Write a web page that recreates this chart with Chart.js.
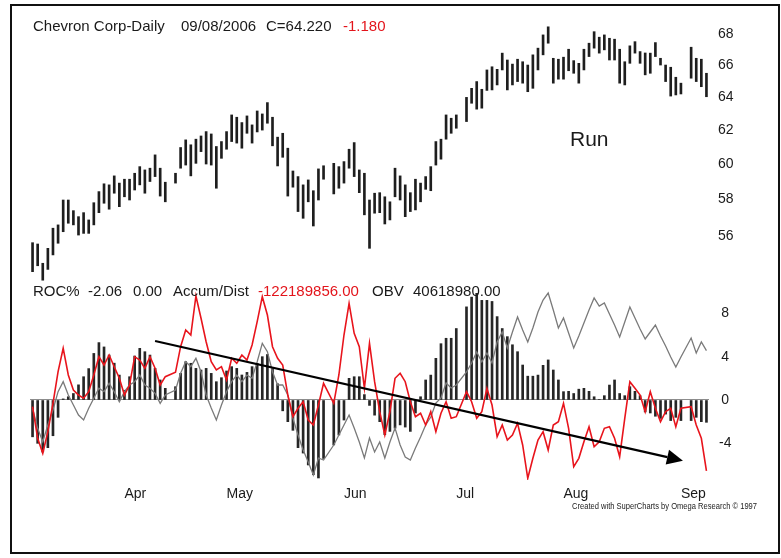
<!DOCTYPE html>
<html>
<head>
<meta charset="utf-8">
<script src="https://cdn.jsdelivr.net/npm/chart.js@4.4.1/dist/chart.umd.min.js"></script>
<style>
  html,body{margin:0;padding:0;background:#fff;}
  #wrap{position:relative;width:781px;height:558px;overflow:hidden;background:#fff;font-family:"Liberation Sans",Arial,sans-serif;}
  canvas{position:absolute;left:0;}
  .t{position:absolute;white-space:nowrap;line-height:1;color:#1a1a1a;}
  .red{color:#e3141b;}
  #frame{position:absolute;left:10px;top:4px;width:770px;height:550px;border:2px solid #111;box-sizing:border-box;pointer-events:none;}
</style>
</head>
<body>
<div id="wrap">
  <canvas id="cTop" width="781" height="287" style="top:0;width:781px;height:287px;"></canvas>
  <canvas id="cBot" width="781" height="240" style="top:280px;width:781px;height:240px;"></canvas>
  <div id="frame"></div>
  <span class="t" style="left:33px;top:18px;font-size:15px;">Chevron Corp-Daily</span>
  <span class="t" style="left:181px;top:18px;font-size:15px;">09/08/2006</span>
  <span class="t" style="left:266px;top:18px;font-size:15px;">C=64.220</span>
  <span class="t red" style="left:343px;top:18px;font-size:15px;">-1.180</span>
  <span class="t" style="left:570px;top:128px;font-size:21px;">Run</span>
  <span class="t" style="left:33px;top:283px;font-size:15px;">ROC%</span>
  <span class="t" style="left:88px;top:283px;font-size:15px;">-2.06</span>
  <span class="t" style="left:133px;top:283px;font-size:15px;">0.00</span>
  <span class="t" style="left:173px;top:283px;font-size:15px;">Accum/Dist</span>
  <span class="t red" style="left:258px;top:283px;font-size:15px;">-122189856.00</span>
  <span class="t" style="left:372px;top:283px;font-size:15px;">OBV</span>
  <span class="t" style="left:413px;top:283px;font-size:15px;">40618980.00</span>
  <span class="t" style="left:572px;top:502px;font-size:9px;color:#222;transform:scaleX(0.84);transform-origin:0 0;">Created with SuperCharts by Omega Research © 1997</span>
</div>
<script>
// ---------- categories: trading-day slots (weekdays, holidays left empty) ----------
const startDate = new Date(2006, 2, 8);   // Mar 8 2006
const endDate = new Date(2006, 8, 8);     // Sep 8 2006
const dates = [];
for (let d = new Date(startDate); d <= endDate; d.setDate(d.getDate() + 1)) {
  const wd = d.getDay();
  if (wd !== 0 && wd !== 6) dates.push(new Date(d));
}
const monthNames = ['Jan','Feb','Mar','Apr','May','Jun','Jul','Aug','Sep','Oct','Nov','Dec'];
const labels = dates.map(d => (d.getMonth() + 1) + '/' + d.getDate() + '/2006');
const monthLabels = dates.map((d, i) => (i > 0 && d.getMonth() !== dates[i - 1].getMonth()) ? monthNames[d.getMonth()] : '');

// ---------- price (daily high / low) ----------
const priceHigh = [55.64,55.57,54.55,55.34,56.42,56.60,57.97,57.97,57.38,57.05,57.27,56.87,57.82,58.44,58.88,58.82,59.33,58.92,59.14,59.14,
59.48,59.86,59.67,59.77,60.54,59.77,58.97,null,59.48,60.97,61.42,61.13,61.46,61.65,61.91,61.77,61.03,61.32,61.91,62.91,
62.77,62.45,62.85,62.31,63.15,62.97,63.66,62.77,61.58,61.81,60.93,59.61,59.29,58.82,59.10,58.49,59.73,59.91,null,60.05,
59.86,60.15,60.87,61.26,59.67,59.48,57.97,58.35,58.38,58.15,57.87,59.77,59.33,58.82,58.38,59.14,58.92,59.29,59.86,61.32,
61.46,62.91,62.71,62.91,null,63.98,64.54,64.96,64.48,65.69,65.89,65.73,66.76,66.32,66.06,66.37,66.21,66.00,66.65,67.08,
67.94,68.47,66.43,66.37,66.50,67.01,66.28,66.11,67.01,67.40,68.15,67.79,67.94,67.72,67.66,67.01,66.21,67.23,67.50,66.86,
66.77,66.76,67.44,66.43,66.00,65.86,65.23,64.86,null,67.14,66.43,66.37,65.48];
const priceLow = [54.11,54.42,53.67,54.23,54.99,55.61,56.23,56.69,56.60,56.05,56.14,56.14,56.60,57.27,57.79,57.46,58.35,57.60,58.15,57.97,
58.53,58.82,58.35,59.01,59.29,58.19,57.87,null,58.92,59.77,59.95,59.33,60.05,60.73,60.01,59.95,58.63,60.34,60.87,61.32,
61.23,60.93,61.81,61.23,61.89,62.00,62.41,61.07,59.90,60.40,58.19,58.69,57.33,56.96,57.87,56.54,57.97,59.14,null,58.31,
58.63,58.92,59.77,59.29,58.38,57.15,55.34,57.24,57.27,56.65,56.87,58.15,57.97,57.05,57.33,57.42,57.87,58.57,58.49,59.95,
60.29,61.46,61.81,62.11,null,62.51,63.62,63.26,63.32,64.41,64.44,64.75,65.69,64.44,64.75,64.96,64.86,64.33,64.54,65.69,
66.65,67.40,64.86,65.11,65.11,65.64,65.48,64.86,65.69,66.54,67.08,66.76,66.97,66.32,66.32,64.86,64.75,66.11,66.76,66.11,
65.38,65.48,66.54,66.00,64.96,64.06,64.13,64.19,null,65.17,64.96,64.64,64.02];

// ---------- ROC % ----------
const rocValues = [-3.4,-4.0,-4.8,-4.4,-3.3,-1.6,0.1,0.3,0.6,1.4,2.15,2.9,4.3,5.3,4.9,4.15,3.4,2.3,0.9,2.15,
4.06,4.77,4.46,4.15,2.92,1.85,1.08,null,1.23,2.46,3.54,3.39,2.92,2.77,2.92,2.46,1.69,2.06,2.68,3.08,
2.92,2.31,2.55,3.08,3.39,4.0,4.2,2.9,1.5,-1.0,-2.0,-2.8,-4.4,-4.9,-6.0,-6.9,-7.2,-5.4,null,-4.15,
-3.23,-1.85,2.0,2.15,2.15,0.5,-0.5,-1.4,-2.0,-3.2,-2.9,-2.6,-2.3,-2.5,-2.9,-1.2,0.3,1.85,2.3,3.85,
5.2,5.7,5.7,6.6,null,8.6,9.5,9.85,9.2,9.2,9.1,7.7,6.6,5.85,5.1,4.46,3.23,2.2,2.2,2.3,
3.2,3.7,2.77,1.85,0.77,0.8,0.6,1.0,1.08,0.8,0.3,0.05,0.4,1.38,1.85,0.6,0.4,1.23,0.8,0.4,
-1.1,-1.2,-1.5,-1.7,-1.3,-1.9,-1.6,-1.9,null,-1.9,-1.6,-2.0,-2.06];

// ---------- Accumulation / Distribution (millions) ----------
const adValues = [-57.9,-89.5,-104.5,-82.9,-54.5,-22.9,0.5,-26.2,-41.2,-46.2,-49.5,-42.9,-26.2,-7.9,-16.2,-6.2,-17.9,-29.5,-46.2,-36.2,
-7.9,-11.2,-19.5,-7.9,-19.5,-36.2,-27.9,null,-23.5,2.1,18.8,13.8,52.8,30.5,7.1,-12.9,-21.2,-17.9,-31.2,-9.5,
-14.5,-6.2,-11.2,3.8,27.1,52.1,33.8,2.1,-9.5,-16.2,-46.2,-67.9,-59.5,-52.9,-71.2,-76.2,-56.2,-34.5,null,-54.5,
-26.2,13.8,45.5,15.5,2.1,-39.5,5.5,-32.9,-62.9,-86.2,-62.9,-29.5,-24.5,-32.9,-52.9,-67.9,-64.5,-76.2,-62.9,-82.9,
-64.5,-52.9,-69.5,-67.9,null,-42.9,-52.9,-69.5,-62.9,-39.5,-56.2,-87.9,-76.2,-91.2,-86.2,-74.5,-96.2,-129.5,-109.5,-91.2,
-82.9,-101.2,-76.2,-72.9,-54.5,-79.5,-117.9,-109.5,-92.9,-77.9,-97.9,-92.9,-79.5,-77.9,-89.5,-107.9,-69.5,-32.9,-39.5,-46.2,
-62.9,-42.9,-59.5,-72.9,-62.9,-59.5,-77.9,-59.5,null,-57.9,-76.2,-89.5,-122.19];

// ---------- On Balance Volume (millions) ----------
const obvValues = [-17.0,-37.0,-50.4,-33.7,-18.7,-0.4,9.6,-3.7,-13.7,-23.7,-28.7,-17.0,-7.0,3.0,-0.4,8.0,-0.4,-10.4,-0.4,6.3,
9.6,16.3,6.3,3.0,-2.0,-12.0,-3.7,null,1.3,18.0,29.6,24.6,33.0,19.6,-3.7,-16.7,-28.7,-13.7,-0.4,9.6,
16.3,9.6,16.3,13.0,29.6,48.0,39.6,19.6,6.3,6.3,-3.7,-27.0,-43.7,-58.7,-70.7,-83.7,-66.7,-68.7,null,-53.7,
-43.7,-33.7,-23.7,-36.7,-50.7,-66.7,-46.7,-60.7,-50.7,-66.7,-50.7,-36.7,-53.7,-65.7,-68.7,-56.7,-45.7,-33.7,-25.7,-11.7,
-6.7,8.3,3.3,6.3,null,19.3,28.3,39.3,29.3,38.3,28.3,49.3,59.3,43.3,59.3,74.3,61.3,49.3,63.3,79.3,
91.3,98.3,81.3,63.3,73.3,58.3,43.3,55.3,68.3,81.3,93.3,85.3,88.3,77.3,66.3,54.3,69.3,84.3,73.3,62.3,
52.3,59.3,66.3,55.3,45.3,34.3,24.3,34.3,null,53.3,38.3,49.3,40.62];

// ---------- axis ticks ----------
const priceTicks = [56, 58, 60, 62, 64, 66, 68];
const rocTicks = [-4, 0, 4, 8];

// ---------- trend arrow (in data coordinates: slot index, ROC value) ----------
const arrowFrom = {index: 24.0, value: 5.45};
const arrowTo = {index: 127.4, value: -5.6};

const FONT = '"Liberation Sans", Arial, sans-serif';
Chart.defaults.font.family = FONT;
Chart.defaults.color = '#1a1a1a';

const noPad = s => { s.paddingTop = 0; s.paddingBottom = 0; s.paddingLeft = 0; s.paddingRight = 0; };

const priceBars = priceHigh.map((h, i) => (h == null || priceLow[i] == null) ? null : [priceLow[i], h]);

new Chart(document.getElementById('cTop'), {
  type: 'bar',
  data: {
    labels: labels,
    datasets: [{
      data: priceBars,
      backgroundColor: '#1e1e1e',
      borderWidth: 0,
      barThickness: 2,
      yAxisID: 'yP'
    }]
  },
  options: {
    responsive: false,
    animation: false,
    events: [],
    layout: {padding: {left: 30, top: 20, right: 0, bottom: 0}},
    plugins: {legend: {display: false}, tooltip: {enabled: false}},
    scales: {
      x: {display: false, offset: true},
      yP: {
        type: 'logarithmic',
        position: 'right',
        min: 53.32,
        max: 68.92,
        grid: {display: false, drawTicks: false},
        border: {display: false},
        afterBuildTicks: s => { s.ticks = priceTicks.map(v => ({value: v})); },
        afterFit: s => { s.width = 72; noPad(s); },
        ticks: {
          padding: 9,
          font: {size: 14},
          color: '#1a1a1a',
          callback: v => String(v)
        }
      }
    }
  }
});

const arrowPlugin = {
  id: 'trendArrow',
  afterDatasetsDraw(chart) {
    const xs = chart.scales.x, ys = chart.scales.yR;
    const px = i => xs.getPixelForValue(i);
    const x1 = px(arrowFrom.index), y1 = ys.getPixelForValue(arrowFrom.value);
    const x2 = px(arrowTo.index), y2 = ys.getPixelForValue(arrowTo.value);
    const ang = Math.atan2(y2 - y1, x2 - x1);
    const headLen = 16, headHalf = 7.5;
    const bx = x2 - headLen * Math.cos(ang), by = y2 - headLen * Math.sin(ang);
    const ctx = chart.ctx;
    ctx.save();
    ctx.strokeStyle = '#000';
    ctx.fillStyle = '#000';
    ctx.lineWidth = 2.2;
    ctx.beginPath();
    ctx.moveTo(x1, y1);
    ctx.lineTo(bx, by);
    ctx.stroke();
    ctx.beginPath();
    ctx.moveTo(x2, y2);
    ctx.lineTo(bx + headHalf * Math.sin(ang), by - headHalf * Math.cos(ang));
    ctx.lineTo(bx - headHalf * Math.sin(ang), by + headHalf * Math.cos(ang));
    ctx.closePath();
    ctx.fill();
    ctx.restore();
  }
};

new Chart(document.getElementById('cBot'), {
  type: 'bar',
  data: {
    labels: labels,
    datasets: [
      {
        type: 'line',
        label: 'Accum/Dist',
        data: adValues,
        borderColor: '#e8141c',
        borderWidth: 1.6,
        pointRadius: 0,
        tension: 0,
        spanGaps: true,
        yAxisID: 'yAD',
        order: 0
      },
      {
        type: 'line',
        label: 'OBV',
        data: obvValues,
        borderColor: '#7a7a7a',
        borderWidth: 1.3,
        pointRadius: 0,
        tension: 0,
        spanGaps: true,
        yAxisID: 'yOBV',
        order: 1
      },
      {
        type: 'bar',
        label: 'ROC%',
        data: rocValues,
        backgroundColor: '#262626',
        borderWidth: 0,
        barThickness: 2,
        yAxisID: 'yR',
        order: 2
      }
    ]
  },
  options: {
    responsive: false,
    animation: false,
    events: [],
    layout: {padding: {left: 30, top: 10, right: 0, bottom: 0}},
    plugins: {legend: {display: false}, tooltip: {enabled: false}},
    scales: {
      x: {
        offset: true,
        grid: {display: false, drawTicks: false},
        border: {display: false},
        afterFit: s => { s.height = 40; s.paddingLeft = 0; s.paddingRight = 0; },
        ticks: {
          autoSkip: false,
          maxRotation: 0,
          minRotation: 0,
          align: 'start',
          padding: 6,
          font: {size: 14},
          color: '#1a1a1a',
          callback: (v, i) => monthLabels[i]
        }
      },
      yR: {
        position: 'right',
        min: -7.387,
        max: 10.157,
        border: {display: false},
        grid: {
          display: true,
          drawTicks: false,
          lineWidth: 1,
          color: ctx => (ctx.tick && ctx.tick.value === 0) ? '#8c8c8c' : 'rgba(0,0,0,0)'
        },
        afterBuildTicks: s => { s.ticks = rocTicks.map(v => ({value: v})); },
        afterFit: s => { s.width = 72; noPad(s); },
        ticks: {
          padding: 10,
          crossAlign: 'center',
          font: {size: 14},
          color: '#1a1a1a',
          callback: v => String(v)
        }
      },
      yAD: {display: false, min: -131.2, max: 58.8},
      yOBV: {display: false, min: -88.7, max: 101.3}
    }
  },
  plugins: [arrowPlugin]
});
</script>
</body>
</html>
